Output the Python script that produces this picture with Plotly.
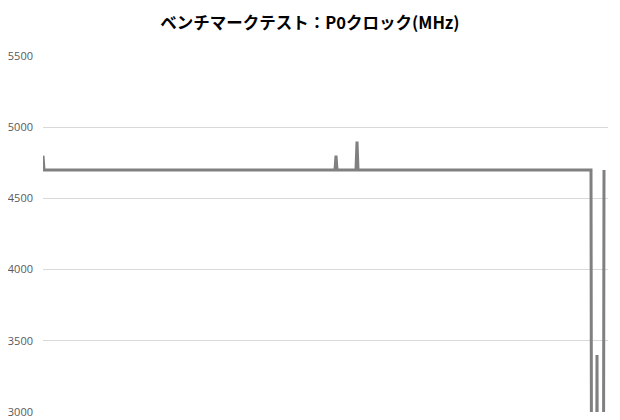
import plotly.graph_objects as go

# sample index where the clock changes, and the clock (MHz) at that sample
sample = [0, 1, 292, 293, 294, 313, 314, 315, 548, 549, 553, 554, 555, 560, 561]
clock = [4800, 4700, 4700, 4800, 4700, 4700, 4900, 4700, 4700, 400, 400, 3400, 400, 400, 4700]

title_text = "ベンチマークテスト：P0クロック(MHz)"
y_ticks = [3000, 3500, 4000, 4500, 5000, 5500]

fig = go.Figure()
fig.add_trace(go.Scatter(x=sample,
                         y=clock,
                         mode='lines',
                         line=dict(color='#808080', width=3),
                         hoverinfo='none'))

fig.update_layout(
    width=620, height=420,
    paper_bgcolor='white', plot_bgcolor='white',
    margin=dict(l=35, r=20, t=48, b=16, autoexpand=False),
    showlegend=False,
    title=dict(text='<b>' + title_text + '</b>', x=0.487, xanchor='center',
               y=0.964, yanchor='middle',
               font=dict(family='Noto Sans CJK JP', size=16.5, color='#000000')),
)
fig.update_xaxes(range=[0, 565], showgrid=False, showticklabels=False,
                 zeroline=False, showline=False, ticks='', automargin=False)
fig.update_yaxes(range=[3000, 5500], tickvals=y_ticks, showgrid=True,
                 gridcolor='#d9d9d9', gridwidth=1, zeroline=False, showline=False,
                 ticks='', ticklabelstandoff=9, automargin=False,
                 tickfont=dict(family='Open Sans', size=11, color='#595959'))

fig.write_html('out.html')
